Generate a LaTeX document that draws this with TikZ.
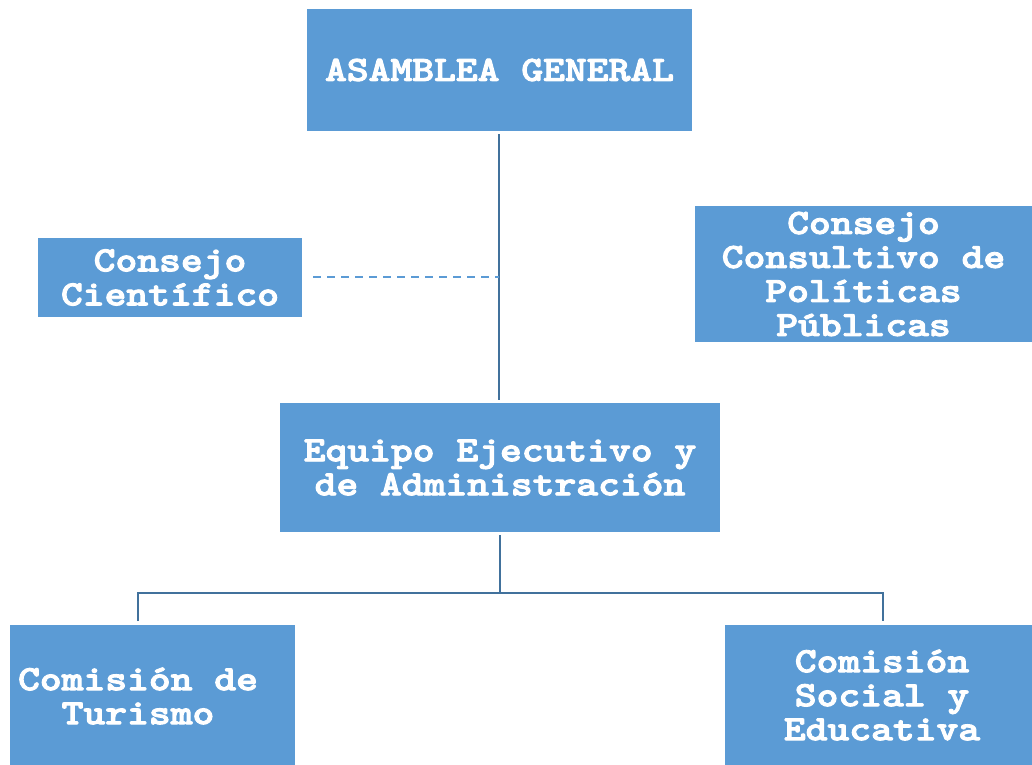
\documentclass[tikz,border=0pt]{standalone}
\definecolor{boxfill}{HTML}{5B9BD5}
\definecolor{lineblue}{HTML}{41719C}
\newcommand{\fatt}[1]{\special{pdf:literal 1 1 1 RG 0.9 w 2 Tr}#1\special{pdf:literal 0 Tr}}
\begin{document}
\begin{tikzpicture}[x=1pt,y=-1pt,
  box/.style={fill=boxfill,draw=none,inner sep=0pt,anchor=center},
  txt/.style={text=white,font=\ttfamily\bfseries\fontsize{35.5}{34}\selectfont,align=center,inner sep=0pt,xscale=1.17,transform shape},
  conn/.style={draw=lineblue,line width=2.2pt},
  dconn/.style={draw=boxfill,line width=2pt,dash pattern=on 8pt off 6pt}]
\useasboundingbox (0,0) rectangle (1032,764);
\clip (0,0) rectangle (1032,764);
\fill[white] (0,0) rectangle (1032,764);
% boxes
\node[box,minimum width=385pt,minimum height=122pt] (ag) at (499.5,70) {};
\node[txt] (agt) at (ag.center) {\fatt{ASAMBLEA GENERAL}};
\node[box,minimum width=264pt,minimum height=79pt] (cc) at (170,277.5) {};
\node[txt] (cct) at (cc.center) {\fatt{Consejo}\\\fatt{Científico}};
\node[box,minimum width=337pt,minimum height=136pt] (ccp) at (863.5,274) {};
\node[txt] (ccpt) at (ccp.center) {\fatt{Consejo}\\\fatt{Consultivo de}\\\fatt{Políticas}\\\fatt{Públicas}};
\node[box,minimum width=440pt,minimum height=129pt] (eq) at (500,467.5) {};
\node[txt] (eqt) at (eq.center) {\fatt{Equipo Ejecutivo y}\\\fatt{de Administración}};
\node[box,minimum width=285pt,minimum height=160pt] (ct) at (152.5,705) {};
\node[txt] (ctt) at (138,696) {\fatt{Comisión de}\\\fatt{Turismo}};
\node[box,minimum width=320pt,minimum height=160pt] (cs) at (885,705) {};
\node[txt] (cst) at (882,695) {\fatt{Comisión}\\\fatt{Social y}\\\fatt{Educativa}};
% connectors
\coordinate (j1) at (499,277);
\coordinate (eqtop) at (499,400);
\draw[conn] (ag.south -| j1) ++(0,3) -- (eqtop);
\draw[dconn] (313,277) -- (j1);
\coordinate (j2) at (500,593);
\draw[conn] (500,535) -- (j2);
\draw[conn] (138,621) -- (138,593) -- (883,593) -- (883,621);
\end{tikzpicture}
\end{document}
